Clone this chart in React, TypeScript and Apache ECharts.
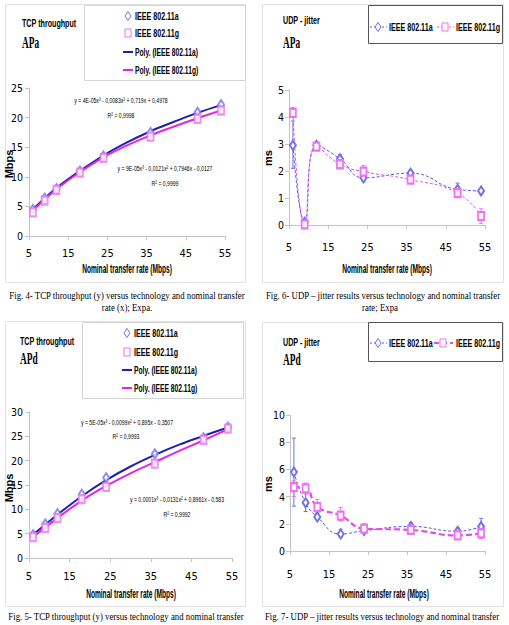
import React, { useEffect, useRef } from "react";
import * as echarts from "echarts";

// ---------- data ----------
const rates = [6, 9, 12, 18, 24, 36, 48, 54];
const trendX = [6, 12, 18, 24, 30, 36, 42, 48, 54];
const xTicks = [5, 15, 25, 35, 45, 55];

// TCP throughput, APa (Mbps)
const tcpApaA = [4.5, 6.4, 8.0, 11.0, 13.5, 17.5, 20.9, 22.2];
const tcpApaG = [4.0, 6.0, 7.8, 10.7, 13.2, 16.8, 19.8, 21.2];
const tcpApaPolyA = [4.5, 8.1, 11.0, 13.6, 15.8, 17.7, 19.3, 20.8, 22.1];
const tcpApaPolyG = [4.3, 7.9, 10.8, 13.3, 15.3, 17.0, 18.5, 19.9, 21.2];

// TCP throughput, APd (Mbps)
const tcpApdA = [4.8, 7.0, 9.1, 13.1, 16.5, 21.4, 24.7, 26.9];
const tcpApdG = [4.3, 6.2, 8.2, 12.1, 14.6, 19.4, 24.3, 26.6];
const tcpApdPolyA = [4.8, 8.9, 12.7, 16.0, 18.8, 21.2, 23.3, 25.1, 26.8];
const tcpApdPolyG = [4.3, 8.2, 11.8, 14.8, 17.4, 19.7, 22.0, 24.2, 26.5];

// UDP jitter, APa (ms)
const udpApaA = [2.95, 0.1, 2.95, 2.45, 1.75, 1.92, 1.32, 1.26];
const udpApaG = [4.15, 0.02, 2.9, 2.25, 1.98, 1.68, 1.18, 0.33];
const udpApaALow = [2.1, 0.0, 2.85, 2.3, 1.6, 1.82, 1.1, 1.2];
const udpApaAHigh = [3.85, 0.2, 3.05, 2.6, 1.9, 2.02, 1.55, 1.32];
const udpApaGLow = [4.0, 0.0, 2.8, 2.1, 1.8, 1.55, 1.05, 0.05];
const udpApaGHigh = [4.35, 0.1, 3.0, 2.4, 2.2, 1.85, 1.35, 0.6];

// UDP jitter, APd (ms)
const udpApdA = [5.8, 3.55, 2.5, 1.25, 1.5, 1.8, 1.45, 1.8];
const udpApdG = [4.7, 4.6, 3.25, 2.6, 1.65, 1.55, 1.15, 1.3];
const udpApdALow = [3.3, 2.9, 2.3, 1.0, 1.3, 1.6, 1.2, 1.3];
const udpApdAHigh = [8.3, 4.2, 2.8, 1.6, 1.7, 2.1, 1.7, 2.4];
const udpApdGLow = [4.0, 4.2, 2.8, 2.2, 1.3, 1.3, 1.0, 0.9];
const udpApdGHigh = [5.2, 5.0, 3.8, 3.2, 2.0, 1.9, 1.5, 1.8];

// ---------- styling ----------
const C_A_MARK = "#7070f0";
const C_G_MARK = "#f070f0";
const C_A_LINE = "#2020a8";
const C_G_LINE = "#e028e0";
const C_A_DASH = "#5858e8";
const C_G_DASH = "#e050e0";
const AXIS_C = "#c4c4c4";
const SANS = '"Liberation Sans", Arial, sans-serif';
const NARROW = '"Liberation Sans Narrow", "Arial Narrow", "DejaVu Sans Condensed", "Liberation Sans", sans-serif';
const SERIF = '"Liberation Serif", "Times New Roman", serif';

const pairs = (xs: number[], ys: number[]) => xs.map((x, i) => [x, ys[i]]);
const errData = (lo: number[], hi: number[]) => rates.map((x, i) => [x, lo[i], hi[i]]);

function T(x: number, y: number, text: string, size: number, o: any = {}) {
  const family = o.family ?? SANS;
  const weight = o.bold === false ? "" : "bold ";
  return {
    type: "text",
    x,
    y,
    scaleX: o.sx ?? 0.65,
    rotation: o.rot ?? 0,
    silent: true,
    style: {
      text,
      x: 0,
      y: 0,
      fill: "#000",
      font: `${weight}${size}px ${family}`,
      textAlign: o.align ?? "left",
      textVerticalAlign: "middle",
      align: o.align ?? "left",
      verticalAlign: "middle",
    },
  };
}

function box(x: number, y: number, w: number, h: number, stroke: string) {
  return { type: "rect", silent: true, shape: { x, y, width: w, height: h }, style: { fill: "none", stroke, lineWidth: 1 } };
}

function diamond(cx: number, cy: number, color: string) {
  return {
    type: "polygon",
    silent: true,
    shape: { points: [[cx, cy - 4.5], [cx + 3, cy], [cx, cy + 4.5], [cx - 3, cy]] },
    style: { fill: "#fff", stroke: color, lineWidth: 1 },
  };
}

function square(cx: number, cy: number, color: string) {
  return { type: "rect", silent: true, shape: { x: cx - 3, y: cy - 4, width: 6, height: 8 }, style: { fill: "#fff", stroke: color, lineWidth: 1 } };
}

function seg(x1: number, y1: number, x2: number, y2: number, color: string, width: number, dash?: number[]) {
  return { type: "line", silent: true, shape: { x1, y1, x2, y2 }, style: { stroke: color, lineWidth: width, lineDash: dash ?? null } };
}

function errRender(color: string) {
  return (params: any, api: any) => {
    const x = api.value(0);
    const lo = api.coord([x, api.value(1)]);
    const hi = api.coord([x, api.value(2)]);
    const st = { stroke: color, lineWidth: 1 };
    return {
      type: "group",
      children: [
        { type: "line", shape: { x1: lo[0], y1: lo[1], x2: hi[0], y2: hi[1] }, style: st },
        { type: "line", shape: { x1: lo[0] - 2, y1: lo[1], x2: lo[0] + 2, y2: lo[1] }, style: st },
        { type: "line", shape: { x1: hi[0] - 2, y1: hi[1], x2: hi[0] + 2, y2: hi[1] }, style: st },
      ],
    };
  };
}

function xAx(gi: number, margin: number) {
  return {
    type: "value",
    gridIndex: gi,
    min: xTicks[0],
    max: xTicks[xTicks.length - 1],
    interval: 10,
    axisLine: { show: true, onZero: false, lineStyle: { color: AXIS_C, width: 1 } },
    axisTick: { show: true, inside: false, length: 4, lineStyle: { color: AXIS_C } },
    axisLabel: { color: "#000", fontFamily: NARROW, fontSize: 11, margin, showMinLabel: true, showMaxLabel: true },
    splitLine: { show: false },
  };
}

function yAx(gi: number, max: number, interval: number, margin: number) {
  return {
    type: "value",
    gridIndex: gi,
    min: 0,
    max,
    interval,
    axisLine: { show: true, onZero: false, lineStyle: { color: AXIS_C, width: 1 } },
    axisTick: { show: true, inside: false, length: 4, lineStyle: { color: AXIS_C } },
    axisLabel: { color: "#000", fontFamily: NARROW, fontSize: 10.5, margin, showMinLabel: true, showMaxLabel: true },
    splitLine: { show: false },
  };
}

function scatter(gi: number, data: number[], kind: "a" | "g") {
  return {
    type: "scatter",
    xAxisIndex: gi,
    yAxisIndex: gi,
    data: pairs(rates, data),
    symbol: kind === "a" ? "emptyDiamond" : "emptyRect",
    symbolSize: kind === "a" ? [6, 9] : [6, 8],
    itemStyle: { color: kind === "a" ? C_A_MARK : C_G_MARK, borderWidth: 1 },
    z: 3,
  };
}

function poly(gi: number, data: number[], color: string) {
  return {
    type: "line",
    xAxisIndex: gi,
    yAxisIndex: gi,
    data: pairs(trendX, data),
    smooth: 0.4,
    showSymbol: false,
    symbol: "none",
    lineStyle: { color, width: 2 },
    z: 2,
  };
}

function dashed(gi: number, data: number[], kind: "a" | "g", thick: boolean) {
  const isA = kind === "a";
  return {
    type: "line",
    xAxisIndex: gi,
    yAxisIndex: gi,
    data: pairs(rates, data),
    smooth: 0.5,
    symbol: isA ? "emptyDiamond" : "emptyRect",
    symbolSize: isA ? [6, 9] : [6, 8],
    showSymbol: true,
    itemStyle: { color: isA ? C_A_MARK : C_G_MARK, borderWidth: 1 },
    lineStyle: {
      color: isA ? C_A_DASH : C_G_DASH,
      width: thick ? 2.2 : 1,
      type: thick ? [6, 3] : [3, 2],
    },
    z: 3,
  };
}

function errSeries(gi: number, lo: number[], hi: number[], color: string) {
  return {
    type: "custom",
    xAxisIndex: gi,
    yAxisIndex: gi,
    data: errData(lo, hi),
    encode: { x: 0, y: [1, 2] },
    renderItem: errRender(color),
    z: 2,
  };
}

function buildOption() {
  const PANEL = "#e2e2e2";
  const LEG_LIGHT = "#d4d4d4";
  const LEG_DARK = "#555";
  const CAP = { family: SERIF, bold: false, sx: 0.88, align: "center" };
  const EQ = { bold: false, sx: 0.64, align: "center" };

  const graphic: any[] = [
    // panel frames
    box(5.5, 4.5, 240, 278, PANEL),
    box(262.5, 4.5, 241, 278, PANEL),
    box(5.5, 321.5, 240, 285, PANEL),
    box(262.5, 322.5, 241, 284, PANEL),

    // ---- panel 1: TCP APa ----
    box(84.5, 5.5, 161, 75, LEG_LIGHT),
    T(22, 23, "TCP throughput", 11),
    T(22, 42, "APa", 17, { family: SERIF, sx: 0.55 }),
    diamond(128, 16, C_A_MARK),
    T(135, 16, "IEEE 802.11a", 10.5, { sx: 0.68 }),
    square(128, 33, C_G_MARK),
    T(135, 33, "IEEE 802.11g", 10.5, { sx: 0.68 }),
    seg(123, 52, 133, 52, C_A_LINE, 2),
    T(135, 52, "Poly. (IEEE 802.11a)", 10.5, { sx: 0.64 }),
    seg(123, 70, 133, 70, C_G_LINE, 2),
    T(135, 70, "Poly. (IEEE 802.11g)", 10.5, { sx: 0.64 }),
    T(121, 100, "y = 4E-05x³ - 0,0083x² + 0,719x + 0,4978", 8, EQ),
    T(121, 115, "R² = 0,9998", 8, EQ),
    T(165, 168, "y = 9E-05x³ - 0,0121x² + 0,7946x - 0,0127", 8, EQ),
    T(165, 183, "R² = 0,9999", 8, EQ),
    T(9, 164, "Mbps", 11, { sx: 1, rot: Math.PI / 2, align: "center" }),
    T(127, 269, "Nominal transfer rate (Mbps)", 12, { sx: 0.55, align: "center" }),

    // ---- panel 2: UDP APa ----
    box(368.5, 5.5, 134, 38, LEG_DARK),
    T(283, 20, "UDP - jitter", 11),
    T(283, 42, "APa", 17, { family: SERIF, sx: 0.55 }),
    seg(370, 27, 387, 27, C_A_DASH, 1, [2, 2]),
    diamond(378, 27, C_A_MARK),
    T(389, 27, "IEEE 802.11a", 10.5, { sx: 0.68 }),
    seg(437, 27, 454, 27, C_G_DASH, 1, [2, 2]),
    square(445, 27, C_G_MARK),
    T(456, 27, "IEEE 802.11g", 10.5, { sx: 0.68 }),
    T(268, 158, "ms", 11, { sx: 1, rot: Math.PI / 2, align: "center" }),
    T(387, 269, "Nominal transfer rate (Mbps)", 12, { sx: 0.55, align: "center" }),
    T(383, 296, "Fig. 6- UDP – jitter results versus technology and nominal transfer", 10, CAP),
    T(380, 308, "rate; Expa", 10, CAP),

    // ---- captions row 1 ----
    T(127, 296, "Fig. 4- TCP throughput (y) versus technology and nominal transfer", 10, CAP),
    T(127, 308, "rate (x); Expa.", 10, CAP),

    // ---- panel 3: TCP APd ----
    box(82.5, 322.5, 161, 76, LEG_LIGHT),
    T(20, 341, "TCP throughput", 11),
    T(20, 358, "APd", 17, { family: SERIF, sx: 0.55 }),
    diamond(127, 333, C_A_MARK),
    T(134, 333, "IEEE 802.11a", 10.5, { sx: 0.68 }),
    square(127, 352, C_G_MARK),
    T(134, 352, "IEEE 802.11g", 10.5, { sx: 0.68 }),
    seg(122, 370, 132, 370, C_A_LINE, 2),
    T(134, 370, "Poly. (IEEE 802.11a)", 10.5, { sx: 0.64 }),
    seg(122, 388, 132, 388, C_G_LINE, 2),
    T(134, 388, "Poly. (IEEE 802.11g)", 10.5, { sx: 0.64 }),
    T(127, 422, "y = 5E-05x³ - 0,0099x² + 0,895x - 0,3507", 8, EQ),
    T(126, 436, "R² = 0,9993", 8, EQ),
    T(177, 499, "y = 0,0001x³ - 0,0131x² + 0,8961x - 0,583", 8, EQ),
    T(177, 514, "R² = 0,9992", 8, EQ),
    T(9, 488, "Mbps", 11, { sx: 1, rot: Math.PI / 2, align: "center" }),
    T(131, 594, "Nominal transfer rate (Mbps)", 12, { sx: 0.55, align: "center" }),

    // ---- panel 4: UDP APd ----
    box(368.5, 322.5, 134, 39, LEG_DARK),
    T(283, 342, "UDP - jitter", 11),
    T(283, 359, "APd", 17, { family: SERIF, sx: 0.55 }),
    seg(370, 343, 387, 343, C_A_DASH, 1, [2, 2]),
    diamond(378, 343, C_A_MARK),
    T(389, 343, "IEEE 802.11a", 10.5, { sx: 0.68 }),
    seg(434, 343, 453, 343, C_G_DASH, 2.2, [5, 3]),
    square(443, 343, C_G_MARK),
    T(456, 343, "IEEE 802.11g", 10.5, { sx: 0.68 }),
    T(268, 484, "ms", 11, { sx: 1, rot: Math.PI / 2, align: "center" }),
    T(384, 594, "Nominal transfer rate (Mbps)", 12, { sx: 0.55, align: "center" }),

    // ---- captions row 2 ----
    T(126, 617, "Fig. 5- TCP throughput (y) versus technology and nominal transfer", 10, CAP),
    T(382, 617, "Fig. 7- UDP – jitter results versus technology and nominal transfer", 10, CAP),
  ];

  return {
    animation: false,
    backgroundColor: "#fff",
    grid: [
      { left: 29, top: 88, width: 196, height: 148 },
      { left: 289, top: 90, width: 196, height: 135 },
      { left: 29, top: 412, width: 203, height: 146 },
      { left: 290, top: 415, width: 195, height: 136 },
    ],
    xAxis: [xAx(0, 12), xAx(1, 17), xAx(2, 13), xAx(3, 18)],
    yAxis: [yAx(0, 25, 5, 6), yAx(1, 5, 1, 5), yAx(2, 30, 5, 6), yAx(3, 10, 2, 5)],
    series: [
      // panel 1
      poly(0, tcpApaPolyA, C_A_LINE),
      poly(0, tcpApaPolyG, C_G_LINE),
      scatter(0, tcpApaA, "a"),
      scatter(0, tcpApaG, "g"),
      // panel 2
      errSeries(1, udpApaALow, udpApaAHigh, C_A_MARK),
      errSeries(1, udpApaGLow, udpApaGHigh, C_G_MARK),
      dashed(1, udpApaA, "a", false),
      dashed(1, udpApaG, "g", false),
      // panel 3
      poly(2, tcpApdPolyA, C_A_LINE),
      poly(2, tcpApdPolyG, C_G_LINE),
      scatter(2, tcpApdA, "a"),
      scatter(2, tcpApdG, "g"),
      // panel 4
      errSeries(3, udpApdALow, udpApdAHigh, C_A_MARK),
      errSeries(3, udpApdGLow, udpApdGHigh, C_G_MARK),
      dashed(3, udpApdA, "a", false),
      dashed(3, udpApdG, "g", true),
    ],
    graphic,
  };
}

export default function App() {
  const ref = useRef<HTMLDivElement>(null);
  useEffect(() => {
    if (!ref.current) return;
    const chart = echarts.init(ref.current, undefined, { renderer: "svg" });
    chart.setOption(buildOption() as any);
    return () => chart.dispose();
  }, []);
  return (
    <div
      ref={ref}
      style={{ position: "fixed", left: 0, top: 0, width: 509, height: 625, background: "#fff" }}
    />
  );
}
